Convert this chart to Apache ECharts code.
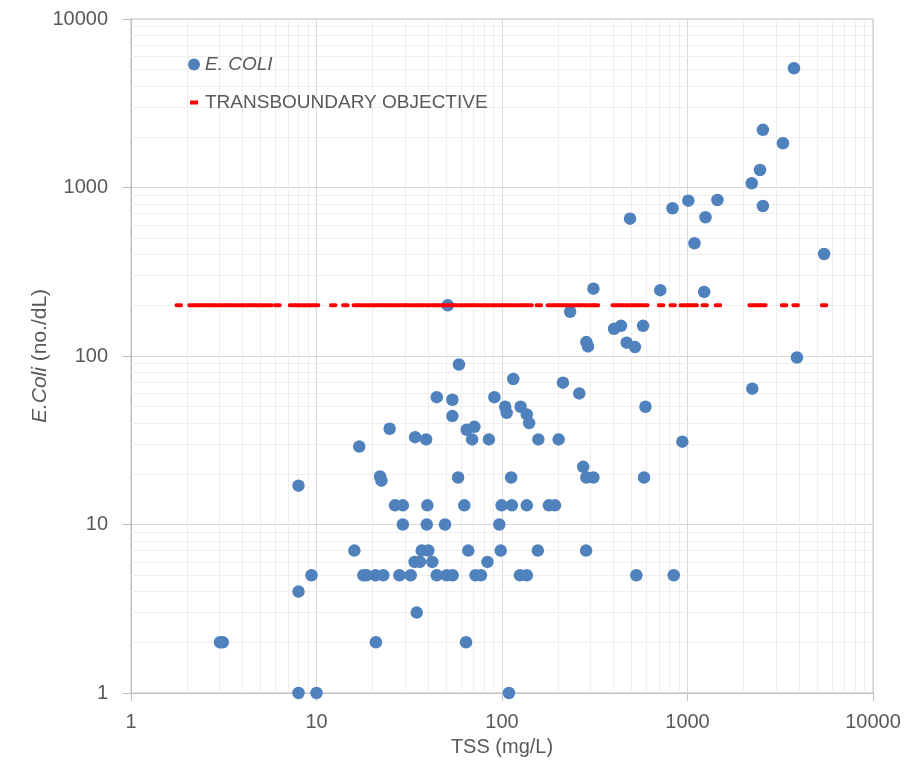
<!DOCTYPE html>
<html>
<head>
<meta charset="utf-8">
<script src="https://cdn.jsdelivr.net/npm/echarts@6/dist/echarts.min.js"></script>
<style>
  html, body { margin: 0; padding: 0; background: #ffffff; }
  #chart { width: 909px; height: 769px; }
</style>
</head>
<body>
<div id="chart"></div>
<script>
// Sample TSS (mg/L) and matching E. coli counts (no./dL)
const tssValues = [
  3750, 2550, 3270, 2460, 2220, 1010, 1450, 830, 2550, 490,
  1250, 1090, 5450, 311, 713, 1230, 51, 233, 402, 438,
  576, 285, 291, 470, 521, 3890, 58.6, 115, 213, 261,
  2235, 91, 44.5, 54, 104, 106, 126, 136, 140, 593,
  54, 64.5, 71, 69, 85, 157, 202, 938, 24.8, 34,
  39, 17, 274, 285, 311, 112, 583, 58, 22, 22.4,
  8,
  26.5, 29.2, 39.6, 62.6, 99.5, 113, 136, 179, 193,
  29.2, 39.3, 49.3, 96.7,
  16, 36.9, 40.1, 65.8, 98.4, 156, 284,
  33.8, 36.1, 42.1, 83.5,
  9.4, 17.9, 18.6, 20.8, 22.9, 28, 32.2, 44.5, 50.3, 54.2, 72, 77, 125, 136, 530, 843,
  8,
  34.7,
  3.02, 3.12, 20.9, 64,
  8, 10, 109
];
const ecoliValues = [
  5100, 2200, 1830, 1270, 1060, 835, 843, 753, 777, 653,
  666, 467, 403, 251, 246, 240, 200, 183, 145, 151,
  151, 121, 114, 120, 113, 98, 89, 73, 69.5, 60,
  64, 57, 57, 55, 50, 46, 50, 45, 40, 50,
  44, 36.5, 38, 32, 32, 32, 32, 31, 37, 33,
  32, 29, 22, 19, 19, 19, 19, 19, 19.3, 18.2,
  17,
  13, 13, 13, 13, 13, 13, 13, 13, 13,
  10, 10, 10, 10,
  7, 7, 7, 7, 7, 7, 7,
  6, 6, 6, 6,
  5, 5, 5, 5, 5, 5, 5, 5, 5, 5, 5, 5, 5, 5, 5, 5,
  4,
  3,
  2, 2, 2, 2,
  1, 1, 1
];

// TSS values of every sample carried on the objective series
const objectiveTss = [
  1.81, 2.12, 2.28, 2.46, 2.65, 2.85, 3.08, 3.31, 3.57, 3.85, 4.14, 4.46, 4.81, 5.18, 5.58, 6.16,
  7.38, 7.95, 8.56, 9.22, 9.94, 12.3, 14.3,
  16.3, 17.5, 18.9, 20.3, 21.9, 23.6, 25.4, 27.4, 29.5, 31.8, 34.3, 36.9, 39.8, 42.9, 46.1, 49.8,
  53.6, 57.7, 62.2, 67.0, 72.1, 77.8, 83.8, 90.2, 97.2, 104.7, 112.7, 121.6, 130.9, 140.9,
  158, 181, 195, 210, 226, 244, 262, 283, 305, 321,
  405, 436, 470, 507, 546, 592, 720, 832, 942, 1015, 1093, 1238, 1460,
  2218, 2390, 2564, 3315, 3830, 5445
];
const objectiveLevel = 200;

// Decade ticks and the 2..9 sub-decade grid values shared by both axes
const axisTickLabels = [1, 10, 100, 1000, 10000];
const minorGridValues = [
  2, 3, 4, 5, 6, 7, 8, 9,
  20, 30, 40, 50, 60, 70, 80, 90,
  200, 300, 400, 500, 600, 700, 800, 900,
  2000, 3000, 4000, 5000, 6000, 7000, 8000, 9000
];

const FONT = '"Liberation Sans", Arial, sans-serif';
const TEXT = '#595959';

const ecoliPoints = tssValues.map((x, i) => [x, ecoliValues[i]]);
const objectivePoints = objectiveTss.map(x => [x, objectiveLevel]);
const minorGridLines = minorGridValues.map(v => ({ xAxis: v }))
  .concat(minorGridValues.map(v => ({ yAxis: v })));

function logAxis(extra) {
  return Object.assign({
    type: 'log',
    logBase: 10,
    min: axisTickLabels[0],
    max: axisTickLabels[axisTickLabels.length - 1],
    axisLine: { show: true, onZero: false, lineStyle: { color: '#bfbfbf', width: 1 } },
    axisTick: { show: true, inside: false, length: 8, lineStyle: { color: '#bfbfbf', width: 1 } },
    minorTick: { show: false },
    splitLine: { show: true, lineStyle: { color: '#d9d9d9', width: 1 } },
    minorSplitLine: { show: false },
    nameLocation: 'middle',
    nameMoveOverlap: false,
    nameTextStyle: { color: TEXT, fontFamily: FONT, fontSize: 20 }
  }, extra);
}

const chart = echarts.init(document.getElementById('chart'));
chart.setOption({
  animation: false,
  backgroundColor: '#ffffff',
  grid: {
    left: 131, right: 36, top: 19, bottom: 76,
    show: true, borderColor: '#bfbfbf', borderWidth: 1, backgroundColor: 'transparent'
  },
  xAxis: logAxis({
    name: 'TSS (mg/L)',
    nameGap: 44,
    axisLabel: {
      color: TEXT, fontFamily: FONT, fontSize: 20, margin: 19,
      formatter: v => String(Math.round(v))
    }
  }),
  yAxis: logAxis({
    name: '{i|E.Coli} (no./dL)',
    nameGap: 80,
    nameTextStyle: {
      color: TEXT, fontFamily: FONT, fontSize: 21,
      rich: { i: { color: TEXT, fontFamily: FONT, fontSize: 21, fontStyle: 'italic' } }
    },
    axisLabel: {
      color: TEXT, fontFamily: FONT, fontSize: 20, margin: 23,
      formatter: v => String(Math.round(v))
    }
  }),
  legend: {
    orient: 'vertical',
    left: 183,
    top: 50,
    itemWidth: 12,
    itemHeight: 12,
    itemGap: 19,
    textStyle: { color: TEXT, fontFamily: FONT, fontSize: 19 },
    data: [
      { name: 'E. COLI', icon: 'circle', textStyle: { fontStyle: 'italic', color: TEXT, fontFamily: FONT, fontSize: 19 } },
      { name: 'TRANSBOUNDARY OBJECTIVE', icon: 'path://M0,0M12,12M2,4h8v4h-8z' }
    ]
  },
  series: [
    {
      // light sub-decade grid
      name: 'grid',
      type: 'scatter',
      data: [],
      silent: true,
      z: 0,
      markLine: {
        silent: true,
        z: 1,
        symbol: 'none',
        animation: false,
        label: { show: false },
        lineStyle: { color: '#eeeeee', width: 1, type: 'solid' },
        emphasis: { disabled: true },
        data: minorGridLines
      }
    },
    {
      name: 'E. COLI',
      type: 'scatter',
      data: ecoliPoints,
      symbol: 'circle',
      symbolSize: 12.5,
      itemStyle: { color: '#4f81bd', opacity: 1 },
      z: 2
    },
    {
      name: 'TRANSBOUNDARY OBJECTIVE',
      type: 'scatter',
      data: objectivePoints,
      symbol: 'roundRect',
      symbolSize: [8, 4],
      itemStyle: { color: '#ff0000', opacity: 1 },
      z: 3
    }
  ]
});
</script>
</body>
</html>
